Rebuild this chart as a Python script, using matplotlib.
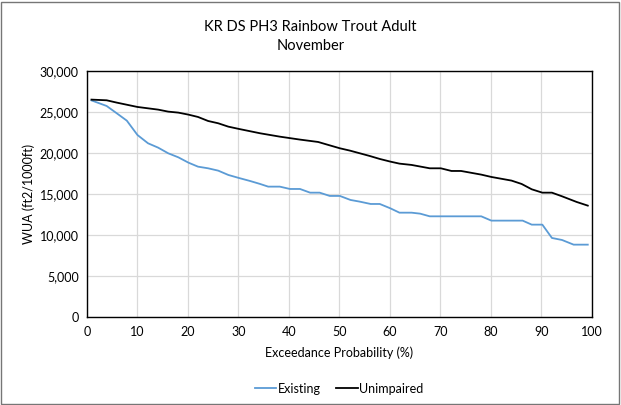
import matplotlib.pyplot as plt
from matplotlib.ticker import FuncFormatter
from matplotlib.patches import Rectangle

plt.rcParams['font.family'] = ['Lato', 'DejaVu Sans']

title = "KR DS PH3 Rainbow Trout Adult\nNovember"

# exceedance curves
existing_x = [0.9, 3.9, 5.9, 7.9, 10, 12.1, 14.1, 16.1, 18.1, 20.1, 22, 24, 26, 28,
              30.1, 32.3, 34.3, 35.9, 38.2, 40.2, 42.2, 44.2, 46.1, 48.1, 50.1,
              52.2, 54, 56.2, 58, 60.1, 61.9, 64.3, 66, 67.9, 78.1, 80.1, 86.3,
              88.1, 90.2, 92.1, 94.1, 96.4, 99.2]
existing_y = [26450, 25770, 24880, 23980, 22235, 21220, 20690, 20000, 19510, 18860,
              18370, 18170, 17885, 17360, 16990, 16625, 16260, 15935, 15935, 15650,
              15650, 15200, 15200, 14800, 14800, 14310, 14110, 13820, 13820, 13290,
              12760, 12760, 12640, 12315, 12315, 11790, 11790, 11300, 11300, 9675,
              9430, 8860, 8860]

unimpaired_x = [0.9, 3.9, 5.9, 10, 14.1, 16.1, 18.1, 20.1, 22, 24, 26, 28, 30.1,
                34.3, 38.2, 42.2, 45.8, 47.8, 50.1, 52.1, 56, 58, 60.1, 61.9, 64.3,
                67.9, 70.1, 72.2, 74.1, 78.1, 80.1, 84.1, 86.1, 88.1, 90.2, 92.1,
                94.1, 97, 99.2]
unimpaired_y = [26545, 26463, 26180, 25650, 25325, 25080, 24960, 24715, 24430, 23940,
                23660, 23250, 22970, 22440, 22030, 21670, 21380, 21020, 20610, 20325,
                19675, 19310, 18985, 18740, 18580, 18170, 18170, 17845, 17845, 17400,
                17115, 16670, 16260, 15610, 15200, 15200, 14755, 14065, 13620]

fig = plt.figure(figsize=(6.21, 4.05), dpi=100)
ax = fig.add_axes([0.140, 0.2165, 0.813, 0.6075])

ax.plot(existing_x, existing_y, color='#5B9BD5', lw=1.3, label='Existing')
ax.plot(unimpaired_x, unimpaired_y, color='black', lw=1.3, label='Unimpaired')

ax.set_xlim(0, 100)
ax.set_ylim(0, 30000)
ax.set_xticks(range(0, 101, 10))
ax.set_yticks(range(0, 30001, 5000))
ax.yaxis.set_major_formatter(FuncFormatter(lambda v, p: f"{int(v):,}"))
ax.grid(True, color='#D9D9D9', lw=0.9)
ax.set_axisbelow(True)
ax.tick_params(length=0, labelsize=9, pad=6)
for s in ax.spines.values():
    s.set_color('black')
    s.set_linewidth(1.0)

ax.set_xlabel("Exceedance Probability (%)", fontsize=9, labelpad=6)
ax.set_ylabel("WUA (ft2/1000ft)", fontsize=9, labelpad=3)
fig.text(0.5, 0.909, title, ha='center', va='center', fontsize=10.5, linespacing=1.45)

ax.legend(loc='center', bbox_to_anchor=(0.5, -0.29), ncol=2, frameon=False,
          fontsize=9, handlelength=1.7, handletextpad=0.15, columnspacing=1.2)

fig.patches.append(Rectangle((0.002, 0.003), 0.995, 0.993, transform=fig.transFigure,
                             fill=False, edgecolor='#767676', lw=1.0))

fig.savefig("out.png", dpi=100)
